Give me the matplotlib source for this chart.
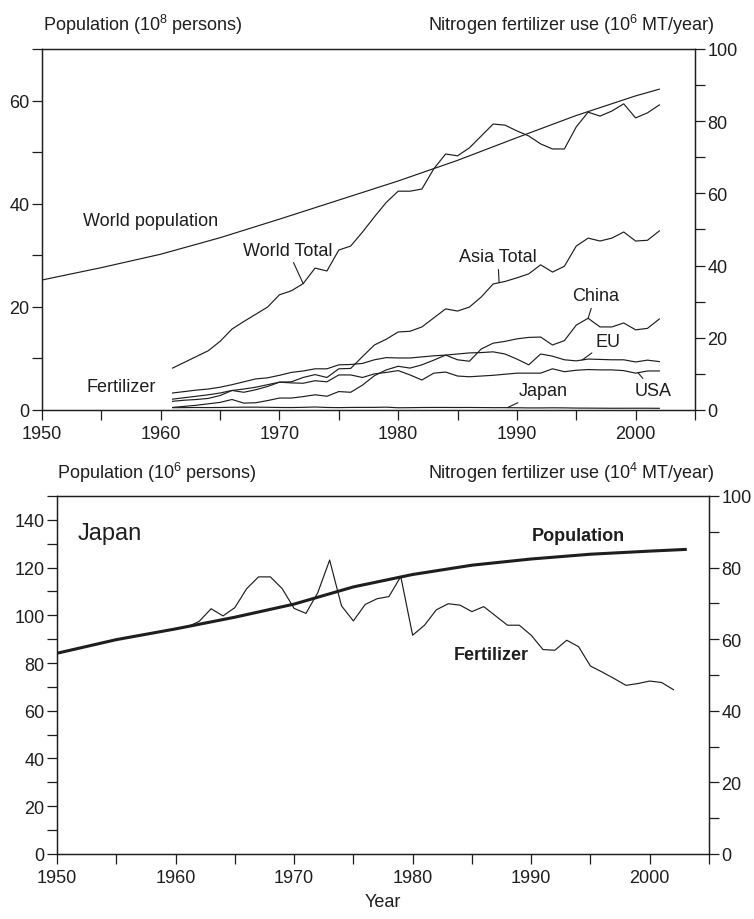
import numpy as np
import matplotlib.pyplot as plt
from matplotlib.ticker import MultipleLocator

plt.rcParams['font.family'] = 'Liberation Sans'
plt.rcParams['mathtext.fontset'] = 'custom'
plt.rcParams['mathtext.rm'] = 'Liberation Sans'
plt.rcParams['mathtext.it'] = 'Liberation Sans:italic'
plt.rcParams['mathtext.bf'] = 'Liberation Sans:bold'

INK = '#1e1e1e'

# world population, 10^8 persons
pop_years = [1950, 1955, 1960, 1965, 1970, 1975, 1980, 1985, 1990, 1995, 2000, 2002]
world_pop = [25.2, 27.6, 30.2, 33.4, 37.0, 40.7, 44.4, 48.4, 52.8, 57.1, 60.9, 62.2]

# nitrogen fertilizer use, 10^6 MT/year
fert_years = list(range(1961, 2003))
world_total = [11.6, 13.2, 14.8, 16.4, 19.0, 22.4, 24.5, 26.5, 28.5, 31.9,
               33.0, 35.0, 39.3, 38.5, 44.3, 45.4, 49.3, 53.5, 57.5, 60.6,
               60.6, 61.2, 66.8, 70.9, 70.4, 72.6, 75.9, 79.2, 78.9, 77.3,
               75.9, 73.7, 72.3, 72.3, 78.4, 82.5, 81.4, 82.8, 84.8, 80.9,
               82.3, 84.5]
asia_total = [3.0, 3.4, 3.8, 4.2, 4.7, 5.4, 5.8, 6.3, 7.0, 7.7,
              7.8, 9.0, 9.8, 9.0, 11.4, 11.5, 14.8, 18.0, 19.6, 21.6,
              21.8, 23.0, 25.5, 28.0, 27.4, 28.5, 31.3, 34.9, 35.6, 36.6,
              37.7, 40.2, 38.2, 39.8, 45.4, 47.6, 46.8, 47.6, 49.3, 46.8,
              47.0, 49.6]
china = [0.7, 1.0, 1.3, 1.7, 2.1, 2.9, 1.9, 2.0, 2.6, 3.3,
         3.3, 3.7, 4.2, 3.8, 5.1, 4.9, 6.9, 9.5, 11.1, 12.1,
         11.6, 12.5, 13.8, 15.2, 13.9, 13.5, 16.9, 18.5, 19.0, 19.7,
         20.1, 20.2, 18.0, 19.2, 23.5, 25.4, 23.0, 23.0, 24.1, 22.2,
         22.6, 25.2]
eu = [4.7, 5.1, 5.5, 5.8, 6.3, 7.0, 7.8, 8.6, 8.9, 9.6,
      10.4, 10.8, 11.4, 11.4, 12.5, 12.6, 12.9, 13.9, 14.5, 14.4,
      14.4, 14.7, 15.0, 15.2, 15.5, 15.8, 15.9, 16.1, 15.5, 14.1,
      12.5, 15.5, 14.9, 13.9, 13.6, 14.1, 14.0, 13.9, 13.9, 13.3,
      13.8, 13.4]
usa = [2.4, 2.7, 2.9, 3.2, 4.0, 5.4, 4.9, 5.6, 6.5, 7.7,
       7.5, 7.4, 8.1, 7.8, 9.7, 9.7, 9.0, 10.0, 10.4, 10.9,
       9.7, 8.3, 10.2, 10.5, 9.4, 9.2, 9.4, 9.6, 9.9, 10.2,
       10.2, 10.2, 11.4, 10.6, 11.0, 11.2, 11.1, 11.1, 10.9, 10.2,
       10.8, 10.8]

# Japan: fertilizer in 10^4 MT/year, population in 10^6 persons
japan_fert = [63.4, 65.0, 68.5, 66.5, 68.8, 74.1, 77.4, 77.4, 74.1, 68.6,
              67.2, 73.0, 82.1, 69.3, 65.1, 69.7, 71.3, 71.9, 77.5, 61.1,
              63.9, 68.2, 69.9, 69.5, 67.7, 69.1, 66.5, 63.9, 63.9, 61.1,
              57.1, 56.9, 59.7, 57.9, 52.5, 50.8, 49.0, 47.1, 47.6, 48.3,
              47.9, 45.9]
jp_pop_years = [1950, 1955, 1960, 1965, 1970, 1975, 1980, 1985, 1990, 1995, 2000, 2003]
japan_pop = [84.1, 89.8, 94.3, 99.2, 104.7, 111.9, 117.1, 121.0, 123.6, 125.6, 126.9, 127.6]

japan_top = [v / 100 for v in japan_fert]  # 10^4 MT -> 10^6 MT


def style(ax, axr, ymax_l, step_l):
    ax.set_xlim(1950, 2005)
    ax.set_ylim(0, ymax_l)
    axr.set_ylim(0, 100)
    ax.xaxis.set_major_locator(MultipleLocator(10))
    ax.xaxis.set_minor_locator(MultipleLocator(5))
    ax.yaxis.set_major_locator(MultipleLocator(step_l))
    ax.yaxis.set_minor_locator(MultipleLocator(step_l / 2))
    axr.yaxis.set_major_locator(MultipleLocator(20))
    axr.yaxis.set_minor_locator(MultipleLocator(10))
    for a in (ax, axr):
        a.tick_params(which='both', direction='out', length=7, width=0.9,
                      color=INK, labelcolor=INK, labelsize=13, pad=2)
        for s in a.spines.values():
            s.set_linewidth(0.9)
            s.set_color(INK)
    ax.tick_params(axis='x', pad=4)


def leader(ax, text, x, y, yr, years, vals):
    ax.annotate(text, xy=(yr, np.interp(yr, years, vals)), xytext=(x, y),
                ha='center', va='center', fontsize=13, color=INK,
                arrowprops=dict(arrowstyle='-', color=INK, lw=0.8,
                                shrinkA=1, shrinkB=0))


fig = plt.figure(figsize=(7.54, 9.2), dpi=100)

# --- world panel ---
ax1 = fig.add_axes([0.0557, 0.5533, 0.866, 0.3924])
ax1r = ax1.twinx()
style(ax1, ax1r, 70, 20)

lw = 0.85
ax1.plot(pop_years, world_pop, color=INK, lw=lw)
for series in (world_total, asia_total, china, eu, usa, japan_top):
    ax1r.plot(fert_years, series, color=INK, lw=lw)

ax1.text(1953.45, 36.8, 'World population', ha='left', va='center',
         fontsize=13, color=INK)
ax1r.text(1956.7, 6.6, 'Fertilizer', ha='center', va='center',
          fontsize=13, color=INK)
leader(ax1r, 'World Total', 1970.7, 44.3, 1972, fert_years, world_total)
leader(ax1r, 'Asia Total', 1988.4, 42.4, 1988.5, fert_years, asia_total)
leader(ax1r, 'China', 1996.6, 31.6, 1996, fert_years, china)
leader(ax1r, 'EU', 1997.7, 19.1, 1995.5, fert_years, eu)
leader(ax1r, 'USA', 2001.5, 5.3, 2000.2, fert_years, usa)
leader(ax1r, 'Japan', 1992.2, 5.3, 1989.2, fert_years, japan_top)

fig.text(43 / 754, 1 - 25 / 920, 'Population ($10^{8}$ persons)',
         ha='left', va='center', fontsize=13, color=INK)
fig.text(715 / 754, 1 - 25 / 920, 'Nitrogen fertilizer use ($10^{6}$ MT/year)',
         ha='right', va='center', fontsize=13, color=INK)

# --- Japan panel ---
ax2 = fig.add_axes([0.0756, 0.0707, 0.8647, 0.3891])
ax2r = ax2.twinx()
style(ax2, ax2r, 150, 20)

ax2.plot(jp_pop_years, japan_pop, color=INK, lw=2.2)
ax2r.plot(fert_years, japan_fert, color=INK, lw=lw)

ax2.text(1951.7, 134.3, 'Japan', ha='left', va='center', fontsize=17, color=INK)
ax2.text(1994.0, 133.5, 'Population', ha='center', va='center',
         fontsize=13, fontweight='bold', color=INK)
ax2.text(1986.6, 83.4, 'Fertilizer', ha='center', va='center',
         fontsize=13, fontweight='bold', color=INK)

fig.text(57 / 754, 1 - 473 / 920, 'Population ($10^{6}$ persons)',
         ha='left', va='center', fontsize=13, color=INK)
fig.text(715 / 754, 1 - 473 / 920, 'Nitrogen fertilizer use ($10^{4}$ MT/year)',
         ha='right', va='center', fontsize=13, color=INK)
fig.text(383 / 754, 1 - 903 / 920, 'Year', ha='center', va='center',
         fontsize=13, color=INK)

fig.savefig('out.png', dpi=100)
